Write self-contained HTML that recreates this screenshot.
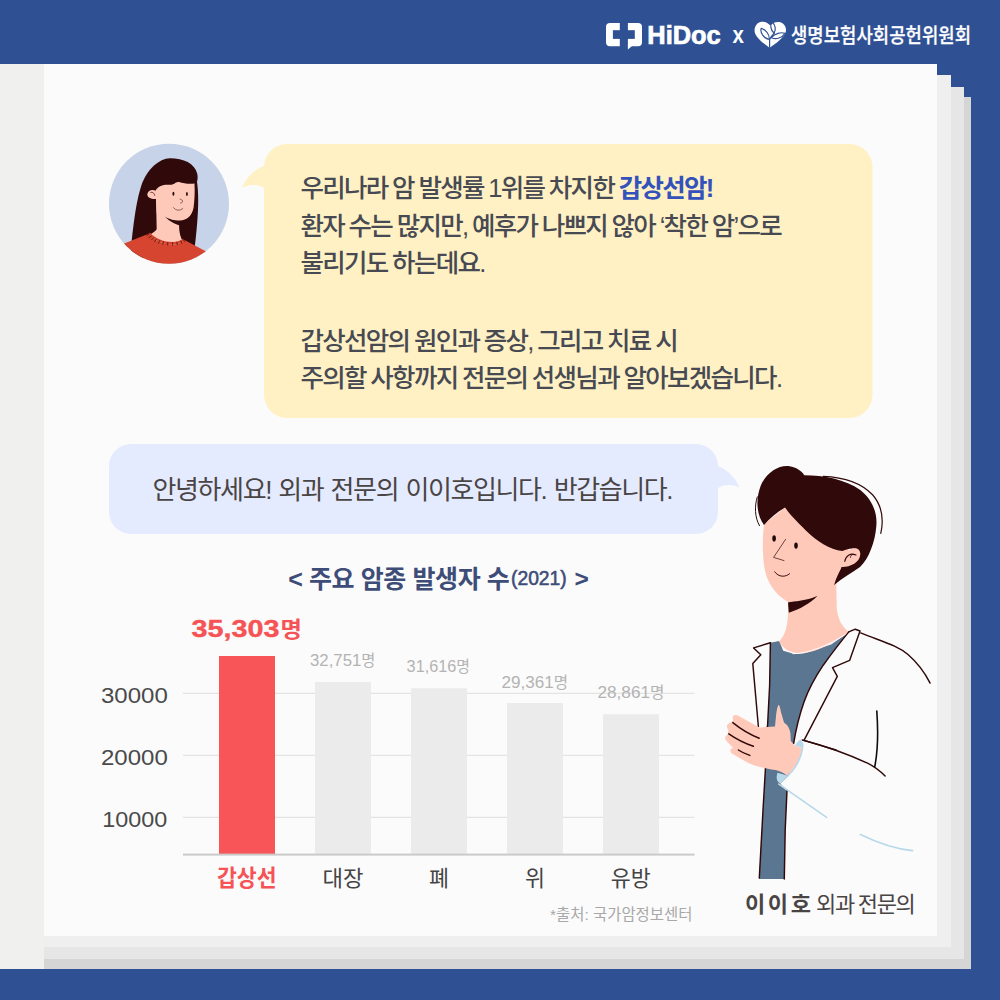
<!DOCTYPE html>
<html lang="ko">
<head>
<meta charset="utf-8">
<title>갑상선암 - HiDoc x 생명보험사회공헌위원회</title>
<style>
html,body{margin:0;padding:0;background:#2f5194;}
body{width:1000px;height:1000px;overflow:hidden;position:relative;}
svg{display:block;position:absolute;left:0;top:0;}
text{font-family:"Liberation Sans","Noto Sans CJK KR",sans-serif;}
.kr{font-family:"Liberation Sans","Noto Sans CJK KR",sans-serif;}
</style>
</head>
<body>
<svg width="1000" height="1000" viewBox="0 0 1000 1000">
<!-- ===== background ===== -->
<rect x="0" y="0" width="1000" height="1000" fill="#2f5194"/>
<!-- paper stack -->
<rect x="0" y="64" width="971" height="905" fill="#d5d5d5"/>
<rect x="0" y="64" width="964" height="895" fill="#e6e6e6"/>
<rect x="0" y="64" width="951" height="883" fill="#efefef"/>
<rect x="0" y="64" width="937" height="872" fill="#fbfbfb"/>
<!-- step cut-outs top right -->
<rect x="937" y="64" width="40" height="11" fill="#2f5194"/>
<rect x="951" y="64" width="30" height="23" fill="#2f5194"/>
<rect x="964" y="64" width="20" height="33" fill="#2f5194"/>
<!-- left strip -->
<rect x="0" y="64" width="44" height="905" fill="#f0f0ee"/>

<!-- ===== header ===== -->
<g id="hidoc">
  <rect x="606" y="23" width="36" height="23.2" rx="4" fill="#fff"/>
  <rect x="619.8" y="22" width="8.1" height="26" fill="#2f5194"/>
  <rect x="612.9" y="30.2" width="21.9" height="8.7" fill="#2f5194"/>
  <path d="M627.9 45 L627.9 49.6 L632.6 45.6 Z" fill="#fff"/>
  <text x="647.3" y="43.6" font-size="25.2" font-weight="700" fill="#fff" stroke="#fff" stroke-width="0.7" textLength="73.4" lengthAdjust="spacingAndGlyphs">HiDoc</text>
  <text x="732.4" y="43.2" font-size="24" font-weight="700" fill="#fff" textLength="11.4" lengthAdjust="spacingAndGlyphs">x</text>
</g>
<g id="heart" transform="translate(745,14) scale(0.06)">
  <path d="M410 562 C330 505 215 430 170 330 C138 250 180 140 280 130 C345 125 395 160 420 192 C450 150 510 124 575 134 C660 150 702 240 676 310 C640 400 520 492 410 562 Z" fill="#fff"/>
  <g fill="none" stroke="#2f5194" stroke-width="20" stroke-linecap="round">
    <path d="M410 555 L410 430 C420 380 470 350 485 320"/>
    <path d="M405 425 C300 400 250 300 270 240 C350 260 410 340 405 425 Z"/>
    <path d="M440 395 C500 320 600 300 665 320 C620 400 520 430 440 395 Z"/>
    <path d="M485 320 C420 260 420 180 445 135 C510 180 520 260 485 320 Z"/>
  </g>
</g>
<text class="kr" x="791" y="42.6" font-size="20.5" font-weight="500" fill="#fff" stroke="#fff" stroke-width="0.25" textLength="180" lengthAdjust="spacingAndGlyphs">생명보험사회공헌위원회</text>

<!-- ===== bubble 1 ===== -->
<g id="bubble1">
  <rect x="264" y="144" width="608.5" height="274" rx="23" fill="#fff1c4"/>
  <path d="M265 165.8 C256.4 167.8 246.8 176.6 242 187.8 C248.4 183.8 258 183.8 265 188.5 Z" fill="#fff1c4"/>
  <g class="kr" font-size="25.5" font-weight="500" fill="#474a53" letter-spacing="-1.68" word-spacing="-0.9">
    <text x="300.5" y="197">우리나라 암 발생률 1위를 차지한 <tspan font-weight="700" fill="#3352bb">갑상선암!</tspan></text>
    <text x="300.5" y="234.5">환자 수는 많지만, 예후가 나쁘지 않아 ‘착한 암’으로</text>
    <text x="300.5" y="272">불리기도 하는데요.</text>
    <text x="300.5" y="350">갑상선암의 원인과 증상, 그리고 치료 시</text>
    <text x="300.5" y="387">주의할 사항까지 전문의 선생님과 알아보겠습니다.</text>
  </g>
</g>

<!-- ===== bubble 2 ===== -->
<g id="bubble2">
  <rect x="109" y="444" width="609" height="90" rx="22" fill="#e5ebff"/>
  <path d="M717 465.8 C724.8 467.8 735.2 476.6 739.6 487.8 C733.6 484.2 724.8 483.8 717 488.5 Z" fill="#e5ebff"/>
  <text class="kr" x="152.6" y="498.6" font-size="26" font-weight="400" fill="#4a4545" letter-spacing="-1.41" word-spacing="1.5">안녕하세요! 외과 전문의 이이호입니다. 반갑습니다.</text>
</g>

<!-- ===== chart ===== -->
<g id="chart">
  <text class="kr" x="288.3" y="587.8" font-size="25" font-weight="700" fill="#3e4d78" textLength="221.5" lengthAdjust="spacing">&lt; 주요 암종 발생자 수</text>
  <text class="kr" x="511" y="585.2" font-size="19.5" font-weight="400" fill="#3e4d78" stroke="#3e4d78" stroke-width="0.55" textLength="55.7" lengthAdjust="spacingAndGlyphs">(2021)</text>
  <text class="kr" x="574.6" y="586.6" font-size="24.5" font-weight="700" fill="#3e4d78">&gt;</text>

  <g stroke="#e4e4e4" stroke-width="1.2">
    <line x1="183" y1="693.4" x2="694.6" y2="693.4"/>
    <line x1="183" y1="755.4" x2="694.6" y2="755.4"/>
    <line x1="183" y1="817.4" x2="694.6" y2="817.4"/>
  </g>
  <rect x="219" y="656" width="56" height="198.6" fill="#f75557"/>
  <rect x="315" y="682" width="56" height="172.6" fill="#ebebeb"/>
  <rect x="411" y="688.2" width="56" height="166.4" fill="#ebebeb"/>
  <rect x="507" y="703" width="56" height="151.6" fill="#ebebeb"/>
  <rect x="603" y="714.2" width="56" height="140.4" fill="#ebebeb"/>
  <rect x="183" y="853.6" width="511.6" height="2" fill="#cacaca"/>

  <g font-size="22" fill="#4a4a4a">
    <text x="101" y="703" textLength="66.8" lengthAdjust="spacingAndGlyphs">30000</text>
    <text x="101" y="765" textLength="66.8" lengthAdjust="spacingAndGlyphs">20000</text>
    <text x="102.2" y="827" textLength="65" lengthAdjust="spacingAndGlyphs">10000</text>
  </g>
  <text x="191.6" y="636.8" font-size="24.5" font-weight="700" fill="#f55356" stroke="#f55356" stroke-width="0.4" textLength="88" lengthAdjust="spacingAndGlyphs">35,303</text>
  <text class="kr" x="280.6" y="637.2" font-size="22" font-weight="700" fill="#f55356" textLength="21.4" lengthAdjust="spacingAndGlyphs">명</text>
  <g font-size="17" fill="#b3b3b3" class="kr">
    <text x="310" y="666" textLength="65.4" lengthAdjust="spacingAndGlyphs">32,751<tspan font-size="15.5">명</tspan></text>
    <text x="406.6" y="671.6" textLength="63.4" lengthAdjust="spacingAndGlyphs">31,616<tspan font-size="15.5">명</tspan></text>
    <text x="501.4" y="687.6" textLength="66.6" lengthAdjust="spacingAndGlyphs">29,361<tspan font-size="15.5">명</tspan></text>
    <text x="597.4" y="698" textLength="67.2" lengthAdjust="spacingAndGlyphs">28,861<tspan font-size="15.5">명</tspan></text>
  </g>
  <g class="kr" font-size="22" fill="#444">
    <text x="217" y="886" font-weight="700" fill="#f55356" font-size="22.5" textLength="59.6" lengthAdjust="spacingAndGlyphs">갑상선</text>
    <text x="322.6" y="886" textLength="41" lengthAdjust="spacingAndGlyphs">대장</text>
    <text x="429" y="886" textLength="20" lengthAdjust="spacingAndGlyphs">폐</text>
    <text x="525" y="886" textLength="20" lengthAdjust="spacingAndGlyphs">위</text>
    <text x="610.8" y="886" textLength="40" lengthAdjust="spacingAndGlyphs">유방</text>
  </g>
  <text class="kr" x="550" y="920" font-size="15.5" fill="#a8a8a8" textLength="142.4" lengthAdjust="spacingAndGlyphs">*출처: 국가암정보센터</text>
</g>

<!-- ===== caption ===== -->
<text class="kr" x="745" y="912" font-size="22" font-weight="700" fill="#4a4545" letter-spacing="2.6">이이호</text>
<text class="kr" x="816" y="912" font-size="22" fill="#4a4545" letter-spacing="-1.3" word-spacing="-1">외과 전문의</text>

<!-- AVATAR -->
<g id="avatar">
  <defs><clipPath id="avc"><circle cx="169" cy="203.8" r="60"/></clipPath></defs>
  <circle cx="169" cy="203.8" r="60" fill="#c7d3e8"/>
  <g clip-path="url(#avc)">
    <!-- face-level drawing: zoom origin (125,150) scale .09 -->
    <g transform="translate(125,150) scale(0.09)">
      <!-- hair -->
      <path d="M500 92 C650 92 775 150 802 262 C812 300 806 330 800 352 C822 500 822 720 760 1200 L55 1200 C95 800 125 570 180 400 C245 210 380 96 500 92 Z" fill="#30090a"/>
      <!-- neck -->
      <path d="M345 520 L352 880 C340 905 300 925 270 945 L300 1100 L720 1100 L640 1010 C610 950 598 900 602 800 Z" fill="#ffc9ba"/>
      <!-- chin shadow -->
      <path d="M440 735 C500 800 560 820 610 840 L700 760 Z" fill="#30090a"/>
      <!-- face -->
      <path d="M340 448 C375 395 430 380 500 386 C545 390 560 352 600 356 C650 372 720 382 772 372 C778 470 772 560 762 640 C745 735 690 782 610 784 C540 784 480 765 445 742 L352 700 Z" fill="#ffc9ba"/>
      <!-- ear -->
      <path d="M345 455 C300 430 250 450 248 495 C250 530 290 550 350 545 Z" fill="#ffc9ba"/>
      <path d="M285 470 C310 465 328 480 330 505" fill="none" stroke="#30090a" stroke-width="7" stroke-linecap="round"/>
      <!-- eyes -->
      <ellipse cx="538" cy="486" rx="11" ry="23" fill="#1d0a0a"/>
      <ellipse cx="688" cy="489" rx="10" ry="22" fill="#1d0a0a"/>
      <!-- nose / mouth -->
      <path d="M612 546 C645 548 652 588 618 590" fill="none" stroke="#30090a" stroke-width="6" stroke-linecap="round"/>
      <path d="M538 640 C565 676 615 678 642 650" fill="none" stroke="#30090a" stroke-width="6" stroke-linecap="round"/>
    </g>
    <!-- sweater: zoom origin (105,140) scale .13 -->
    <g transform="translate(105,140) scale(0.13)">
      <path d="M100 815 L335 722 C380 775 450 805 520 805 C560 805 590 790 612 770 L800 870 L800 1000 L100 1000 Z" fill="#d5452f"/>
      <path d="M345 712 C385 760 455 785 520 785 C555 785 585 775 600 760 L612 772 C590 792 560 806 520 806 C450 806 380 776 333 724 Z" fill="#d5452f"/>
      <g stroke="#30090a" stroke-width="5" stroke-linecap="round">
        <path d="M322 735 L340 722" /><path d="M338 752 L357 738"/><path d="M358 768 L374 752"/>
        <path d="M382 782 L394 764"/><path d="M412 794 L420 775"/><path d="M445 803 L449 783"/>
        <path d="M482 808 L483 788"/><path d="M520 809 L519 789"/><path d="M556 805 L552 786"/>
        <path d="M590 795 L583 777"/><path d="M612 780 L602 765"/>
      </g>
    </g>
  </g>
</g>
<!-- DOCTOR -->
<g id="doctor">
<path d="M770.4 642.8 L779.2 640.9 L783.2 650.8 L794.4 654.0 L804.0 653.2 L831.2 644.4 L848.8 631.9 C839.2 643.6 829.6 656.4 823.2 665.2 C815.2 677.2 808.0 690.8 804.0 702.0 C799.2 715.6 796.0 729.2 793.6 743.6 L793.0 742.8 L787.0 792.0 L785.2 830.0 L784.3 879.0 L759.1 879.0 L765.4 769.2 L769.6 686.0 Z" fill="#5b7690"/>
<path d="M799.0 741.6 L791.8 772.8 L780.4 783.6 L787.0 791.3 L823.0 798.0 L823.0 744.0 Z" fill="#fbfbfb"/>
<path d="M 788.0 580.4 L 788.0 612.4 C 787.7 625.2 785.6 634.8 779.2 641.2 C 783.2 650.8 794.4 654.0 804.0 653.2 C 816.8 651.6 831.2 644.4 844.0 635.6 L 848.8 631.9 C 842.4 626.8 838.4 620.4 836.8 609.2 L 836.0 570.8 Z" fill="#ffc9ba"/>
<path d="M 792.8 653.7 C 807.2 654.0 829.6 645.2 846.4 633.8" fill="none" stroke="#ffffff" stroke-width="0.9" stroke-linecap="round" stroke-linejoin="round"/>
<path d="M 788.0 602.5 L 818.1 595.3 C 810.4 603.6 799.2 609.5 788.8 612.7 Z" fill="#30090a"/>
<path d="M 785.6 507.0 L 764.0 524.6 C 762.4 538.2 762.4 554.2 764.3 567.0 C 766.4 581.4 774.4 594.2 788.0 601.9 C 800.8 601.4 810.4 599.0 818.4 595.5 L 836.0 584.6 L 842.4 567.0 L 848.8 549.4 L 820.0 531.8 Z" fill="#ffc9ba"/>
<path d="M 764.0 524.9 C 756.8 515.8 755.2 499.8 760.8 485.4 C 767.2 471.0 780.0 464.6 789.6 466.2 C 796.0 467.2 801.6 470.7 804.3 475.2 C 823.2 475.2 845.6 479.3 860.3 489.9 C 872.5 499.5 877.6 513.4 876.3 526.2 C 875.2 541.4 868.8 559.0 860.0 567.0 C 852.0 572.6 842.4 578.2 834.1 584.9 C 836.0 578.2 838.4 573.4 840.8 568.9 C 844.0 559.0 850.4 551.0 858.4 549.4 C 852.0 547.0 845.6 549.4 842.4 551.0 C 829.6 549.4 816.8 541.4 805.6 530.2 C 796.0 520.6 789.6 514.2 785.1 507.5 C 777.6 511.8 769.6 518.2 764.0 524.9 Z" fill="#30090a"/>
<path d="M 759.5 525.7 C 754.7 517.4 754.4 506.2 757.3 496.9" fill="none" stroke="#30090a" stroke-width="1.0" stroke-linecap="round" stroke-linejoin="round"/>
<path d="M 823.2 476.3 C 844.0 477.1 861.6 483.0 872.8 495.0 C 881.6 505.4 884.0 519.0 880.8 533.4" fill="none" stroke="#30090a" stroke-width="1.2" stroke-linecap="round" stroke-linejoin="round"/>
<path d="M 842.4 567.0 C 850.4 567.0 860.0 562.2 860.3 554.2 C 860.3 548.6 855.2 547.0 850.4 549.4 C 845.6 551.8 842.4 557.4 839.2 567.0 Z" fill="#ffc9ba"/>
<path d="M 844.8 561.4 C 845.6 555.8 850.4 552.6 856.0 555.0" fill="none" stroke="#30090a" stroke-width="1.1" stroke-linecap="round" stroke-linejoin="round"/>
<path d="M 850.4 557.4 C 850.4 555.5 852.0 554.2 853.9 554.5" fill="none" stroke="#30090a" stroke-width="0.8" stroke-linecap="round" stroke-linejoin="round"/>
<ellipse cx="774.1" cy="538.4" rx="1.8" ry="3.1" fill="#1d0a0a"/>
<ellipse cx="796.0" cy="545.6" rx="1.8" ry="3.1" fill="#1d0a0a"/>
<path d="M 785.6 539.3 L 773.6 557.4 L 784.0 560.6" fill="none" stroke="#30090a" stroke-width="0.7" stroke-linecap="round" stroke-linejoin="round"/>
<path d="M 774.7 571.8 C 778.4 577.4 785.6 577.4 789.6 573.7" fill="none" stroke="#30090a" stroke-width="0.95" stroke-linecap="round" stroke-linejoin="round"/>
<path d="M 770.4 642.8 L 753.6 647.9 L 760.8 654.8 L 752.8 663.6 L 758.4 726.8" fill="none" stroke="#30090a" stroke-width="1.45" stroke-linecap="round" stroke-linejoin="round"/>
<path d="M 770.4 642.8 L 769.6 686.0 L 767.5 726.8" fill="none" stroke="#30090a" stroke-width="1.45" stroke-linecap="round" stroke-linejoin="round"/>
<path d="M 766.8 727.2 L 765.4 769.2 L 763.0 810.0 L 759.3 877.9" fill="none" stroke="#30090a" stroke-width="1.45" stroke-linecap="round" stroke-linejoin="round"/>
<path d="M 848.8 631.9 L 855.2 629.2 L 860.0 631.0 L 849.6 660.4 L 832.5 667.6 L 837.3 676.4 L 804.0 740.4" fill="none" stroke="#30090a" stroke-width="1.45" stroke-linecap="round" stroke-linejoin="round"/>
<path d="M 848.8 631.9 C 839.2 643.6 829.6 656.4 823.2 665.2 C 815.2 677.2 808.0 690.8 804.0 702.0 C 799.2 715.6 796.0 729.2 793.6 743.6" fill="none" stroke="#30090a" stroke-width="1.45" stroke-linecap="round" stroke-linejoin="round"/>
<path d="M 860.7 632.9 C 882.0 641.5 897.6 645.4 908.0 654.5 C 918.4 663.6 924.9 672.7 930.1 683.1" fill="none" stroke="#30090a" stroke-width="1.45" stroke-linecap="round" stroke-linejoin="round"/>
<path d="M 802.3 740.0 C 819.4 744.5 841.0 750.8 868.0 763.4 C 875.2 767.0 880.6 771.5 885.1 776.0" fill="none" stroke="#30090a" stroke-width="1.45" stroke-linecap="round" stroke-linejoin="round"/>
<path d="M 804.0 740.4 L 836.0 750.0" fill="none" stroke="#30090a" stroke-width="1.45" stroke-linecap="round" stroke-linejoin="round"/>
<path d="M 876.8 711.0 C 878.1 729.2 878.1 750.0 874.7 766.9" fill="none" stroke="#0d0d0d" stroke-width="1.6" stroke-linecap="round" stroke-linejoin="round"/>
<path d="M 787.0 790.4 L 785.2 830.0 L 784.3 879.0" fill="none" stroke="#30090a" stroke-width="1.45" stroke-linecap="round" stroke-linejoin="round"/>
<path d="M 800.8 739.2 L 803.6 744.0 C 803.2 754.8 799.0 764.4 791.8 772.8 L 780.4 783.6 C 776.8 782.4 775.6 777.6 777.6 772.8 L 787.0 775.4 C 794.2 768.0 800.2 757.2 801.4 747.6 L 794.8 745.4 L 797.8 741.6 Z" fill="#b9d9ea"/>
<path d="M 778.9 784.1 L 826.6 817.4" fill="none" stroke="#b9d9ea" stroke-width="1.7" stroke-linecap="round" stroke-linejoin="round"/>
<path d="M 860.4 834.5 C 877.0 842.6 895.0 848.9 912.6 850.7" fill="none" stroke="#b9d9ea" stroke-width="1.7" stroke-linecap="round" stroke-linejoin="round"/>
<path d="M 775.0 726.6 L 776.2 714.0 Q 778.6 697.2 780.8 711.6 L 784.0 722.4 Q 789.4 726.0 790.4 733.2 L 790.8 741.0 L 794.8 745.4 L 801.4 747.6 C 800.8 757.2 795.4 766.8 787.0 775.4 Q 779.8 769.8 771.4 769.4 Q 760.6 768.0 748.6 763.2 L 731.8 753.6 Q 728.2 750.0 733.0 747.8 L 727.0 741.6 Q 722.8 737.4 727.6 734.4 L 728.4 730.2 Q 724.6 724.8 730.6 722.6 L 733.2 720.6 Q 731.2 713.4 737.8 715.4 L 759.4 727.4 Z" fill="#ffc9ba"/>
<path d="M 732.8 722.6 C 741.4 729.6 751.0 735.0 759.2 738.2" fill="none" stroke="#30090a" stroke-width="1.45" stroke-linecap="round" stroke-linejoin="round"/>
<path d="M 728.8 733.8 C 736.6 739.2 745.0 743.4 753.4 746.2" fill="none" stroke="#30090a" stroke-width="1.45" stroke-linecap="round" stroke-linejoin="round"/>
<path d="M 738.4 750.0 C 742.0 752.4 746.2 754.2 749.8 755.4" fill="none" stroke="#30090a" stroke-width="1.45" stroke-linecap="round" stroke-linejoin="round"/>
</g>
</svg>
</body>
</html>
